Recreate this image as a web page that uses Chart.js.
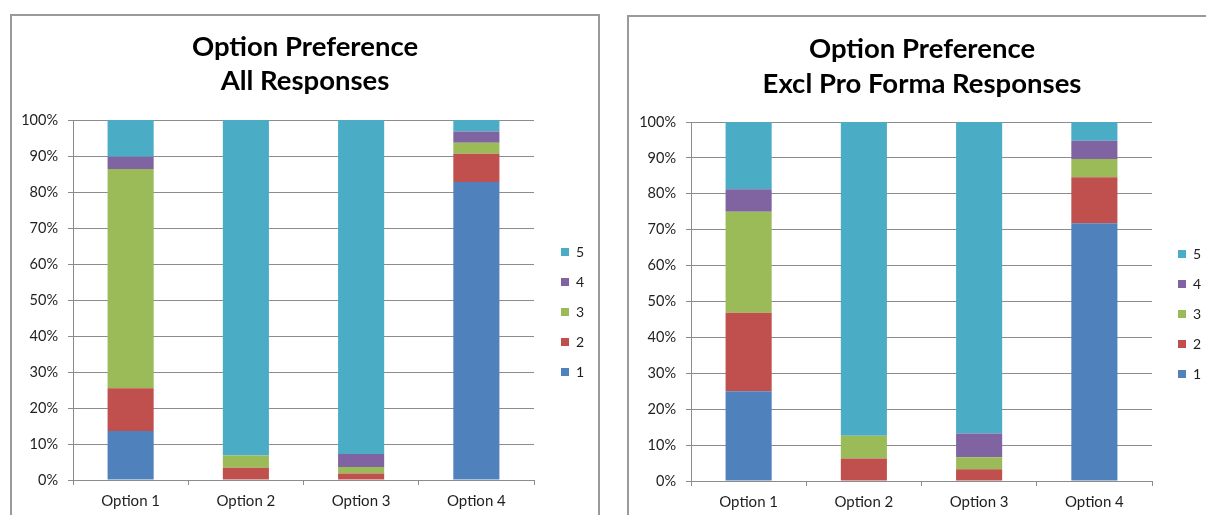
<!DOCTYPE html>
<html>
<head>
<meta charset="utf-8">
<title>Option Preference</title>
<script src="https://cdn.jsdelivr.net/npm/chart.js@4/dist/chart.umd.min.js"></script>
<style>
  html, body { margin: 0; padding: 0; background: #fff; width: 1206px; height: 515px; overflow: hidden; }
  .panel { position: absolute; box-sizing: border-box; border: 2px solid #9a9a9a; background: #fff; }
  #panelAll  { left: 10px;  top: 14px; width: 590px; height: 560px; }
  #panelExcl { left: 627px; top: 15px; width: 640px; height: 560px; }
  canvas { position: absolute; }
  #chartAll  { left: 12px;  top: 16px; }
  #chartExcl { left: 629px; top: 17px; }
</style>
</head>
<body>
<div class="panel" id="panelAll"></div>
<div class="panel" id="panelExcl"></div>
<canvas id="chartAll" width="586" height="499"></canvas>
<canvas id="chartExcl" width="577" height="498"></canvas>

<script>
// Categories, series names and axis tick labels
const categories = ['Option 1', 'Option 2', 'Option 3', 'Option 4'];
const seriesNames = ['1', '2', '3', '4', '5'];
const seriesColors = ['#4F81BD', '#C0504D', '#9BBB59', '#8064A2', '#4BACC6'];
const yTickLabels = ['0%', '10%', '20%', '30%', '40%', '50%', '60%', '70%', '80%', '90%', '100%'];

// Share of responses (%) per rating, All Responses
const all1 = [13.6, 0.0, 0.0, 82.8];
const all2 = [11.9, 3.4, 1.8, 7.8];
const all3 = [60.9, 3.4, 1.8, 3.1];
const all4 = [3.4, 0.0, 3.6, 3.1];
const all5 = [10.2, 93.2, 92.8, 3.2];

// Share of responses (%) per rating, Excl Pro Forma Responses
const excl1 = [25.0, 0.0, 0.0, 71.8];
const excl2 = [21.9, 6.3, 3.3, 12.8];
const excl3 = [28.1, 6.3, 3.3, 5.1];
const excl4 = [6.3, 0.0, 6.6, 5.1];
const excl5 = [18.7, 87.4, 86.8, 5.2];

const FONT = "Lato, 'Open Sans', 'DejaVu Sans', sans-serif";
const GRID = '#8c8c8c';
const TEXT = '#1e1e1e';

// After layout: move the legend block a little apart from the plot (widening its
// clip box so the labels stay visible) and centre the title over the whole panel
const blockShift = {
  id: 'blockShift',
  afterLayout(chart, args, opts) {
    const lg = chart.legend;
    if (lg) {
      const dx = opts.legendDx || 0, dy = opts.legendDy || 0, extra = opts.extra || 0;
      lg.left += dx; lg.right += dx + extra;
      lg.top += dy; lg.bottom += dy;
      lg.width += extra;
    }
    const tb = chart.titleBlock;
    if (tb) {
      const tdx = opts.titleDx || 0;
      tb.left += tdx; tb.right += tdx;
    }
  }
};

function buildChart(canvasId, titleLines, seriesValues, geom) {
  const datasets = seriesValues.map((vals, i) => ({
    label: seriesNames[i],
    data: vals,
    backgroundColor: seriesColors[i],
    borderWidth: 0,
    barPercentage: 1.0,
    categoryPercentage: 0.4
  }));

  return new Chart(document.getElementById(canvasId), {
    type: 'bar',
    data: { labels: categories, datasets },
    plugins: [blockShift],
    options: {
      responsive: false,
      animation: false,
      devicePixelRatio: 1,
      layout: { padding: { left: 0, top: 0, right: geom.padRight, bottom: 0 } },
      plugins: {
        title: {
          display: true,
          text: titleLines,
          color: '#000',
          font: { family: FONT, size: 27.5, weight: 'bold', lineHeight: geom.titleLine },
          padding: { top: geom.titleTop, bottom: geom.titleBottom }
        },
        legend: {
          display: true,
          position: 'right',
          align: 'center',
          reverse: true,
          maxWidth: 30,
          labels: {
            boxWidth: 8,
            boxHeight: 8,
            padding: 16,
            color: TEXT,
            font: { family: FONT, size: 14 }
          }
        },
        blockShift: { legendDx: geom.legendDx, legendDy: geom.legendDy, extra: 30, titleDx: geom.titleDx },
        tooltip: { enabled: false }
      },
      scales: {
        x: {
          stacked: true,
          grid: { display: true, drawOnChartArea: false, drawTicks: true, tickLength: 5, color: GRID, offset: true },
          border: { display: true, color: GRID },
          ticks: { color: TEXT, padding: 7, font: { family: FONT, size: 15 } },
          afterFit(scale) { scale.height = geom.xHeight; }
        },
        y: {
          stacked: true,
          min: 0,
          max: 100,
          grid: { color: GRID, tickLength: 5 },
          border: { display: true, color: GRID },
          ticks: {
            stepSize: 10,
            padding: 10,
            color: TEXT,
            font: { family: FONT, size: 14.5 },
            callback: (v, i) => yTickLabels[i]
          },
          afterFit(scale) { scale.width = geom.yWidth; }
        }
      }
    }
  });
}

buildChart('chartAll', ['Option Preference', 'All Responses'],
  [all1, all2, all3, all4, all5],
  { padRight: 34, titleLine: '34px', titleTop: 14, titleBottom: 22, titleDx: 17,
    xHeight: 35, yWidth: 61, legendDx: 11, legendDy: 46.5 });

buildChart('chartExcl', ['Option Preference', 'Excl Pro Forma Responses'],
  [excl1, excl2, excl3, excl4, excl5],
  { padRight: 24, titleLine: '35px', titleTop: 14.5, titleBottom: 20.5, titleDx: 16.5,
    xHeight: 34, yWidth: 62, legendDx: 10, legendDy: 48 });
</script>
</body>
</html>
